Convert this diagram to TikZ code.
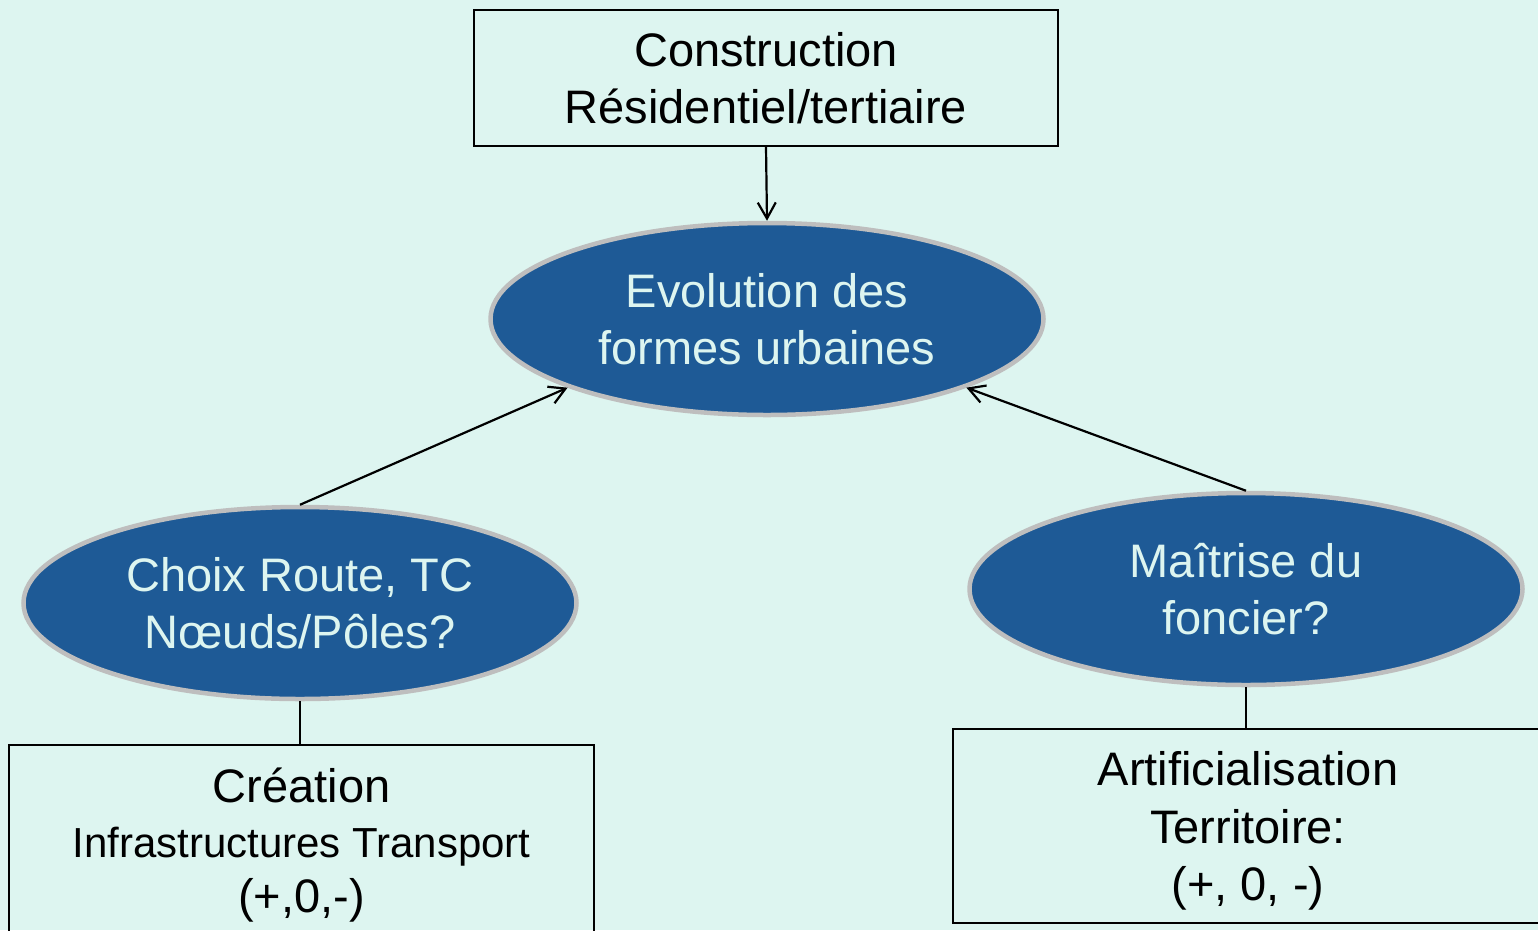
\documentclass[tikz,border=0pt]{standalone}
\usepackage{fontspec}
\setmainfont{Liberation Sans}
\usetikzlibrary{shapes.geometric,arrows.meta}
\definecolor{bgc}{RGB}{221,245,240}
\definecolor{ellfill}{RGB}{30,90,150}
\definecolor{ellborder}{RGB}{190,190,190}
\tikzset{
  box/.style={draw=black, line width=1.6pt, rectangle, inner sep=0pt, align=center, text=black},
  oval/.style={ellipse, draw=ellborder, line width=4.5pt, fill=ellfill, inner sep=0pt,
    minimum width=553pt, minimum height=192pt, align=center, text=bgc,
    font=\fontsize{47}{57}\selectfont},
  conn/.style={draw=black, line width=2.2pt},
  arr/.style={conn, -{Straight Barb[length=16pt,width=18pt,line width=2.2pt]}}
}
\begin{document}
\begin{tikzpicture}[x=1pt,y=-1pt]
\fill[bgc] (0,0) rectangle (1538,930);
\useasboundingbox (0,0) rectangle (1538,930);
\clip (0,0) rectangle (1538,930);
\node[box, minimum width=584pt, minimum height=136pt, font=\fontsize{47}{57}\selectfont]
  (top) at (766,78) {Construction\\Résidentiel/tertiaire};
\node[oval] (mid) at (767,319) {Evolution des\\formes urbaines};
\node[oval] (left) at (300,603) {Choix Route, TC\\Nœuds/Pôles?};
\node[oval] (right) at (1246,589) {Maîtrise du\\foncier?};
\node[box, minimum width=585pt, minimum height=200pt, font=\fontsize{47}{55}\selectfont]
  (lbox) at (301.5,845) {Création\\{\fontsize{42}{55}\selectfont Infrastructures Transport}\\(+,0,-)};
\node[box, minimum width=590pt, minimum height=194pt,
  label={[align=center, font=\fontsize{47}{57.5}\selectfont, yshift=-5pt]center:Artificialisation\\Territoire:\\(+, 0, -)}]
  (rbox) at (1248,826) {};
\draw[arr] (top.south) -- (mid.north);
\draw[arr] (left.north) -- (mid.199);
\draw[arr] (right.north) -- (mid.-19);
\draw[conn] (left.south) -- (left.south |- lbox.north);
\draw[conn] (right.south) -- (right.south |- rbox.north);
\end{tikzpicture}
\end{document}
